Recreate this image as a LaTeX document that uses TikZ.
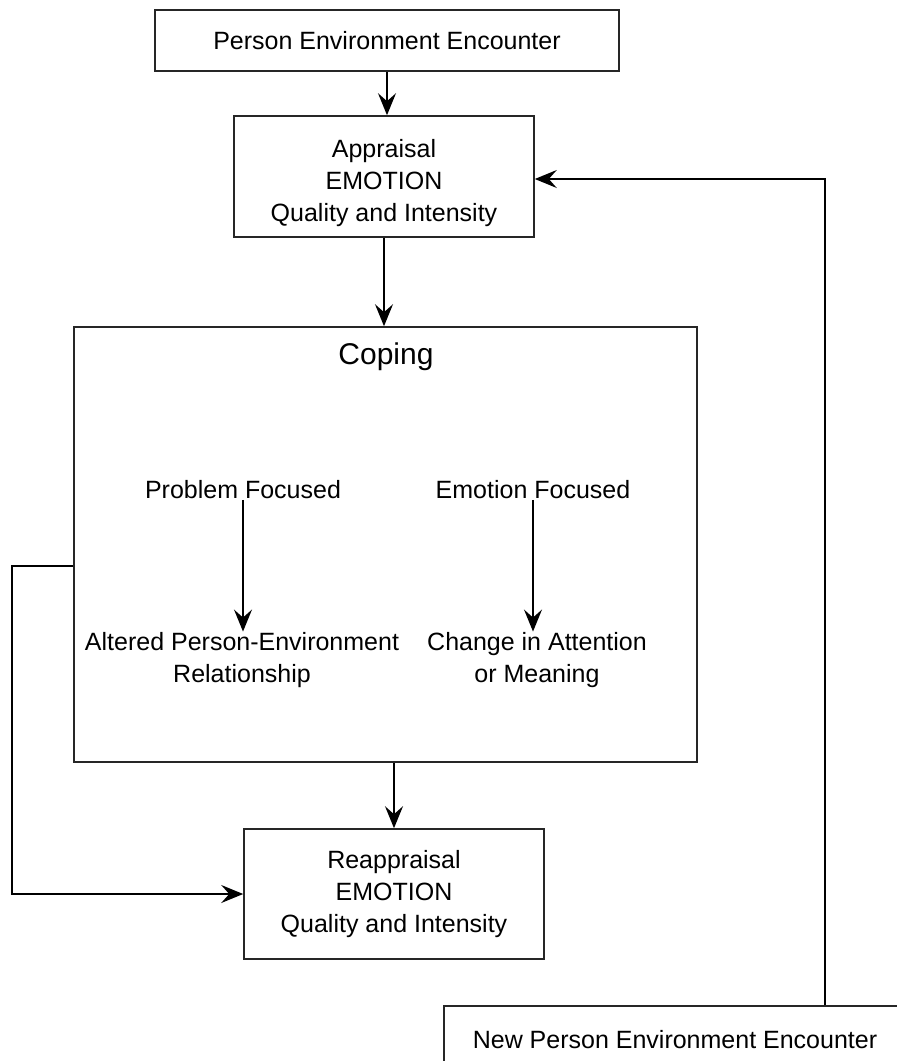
\documentclass[tikz,border=0pt]{standalone}
\usepackage{fontspec}
\setmainfont{Liberation Sans}
\usetikzlibrary{positioning}
\usetikzlibrary{arrows.meta}
\tikzset{>={Stealth[width=18pt,length=22pt,inset=8pt]}}

\begin{document}
\begin{tikzpicture}[x=1pt, y=-1pt, line width=1.6pt, box/.style={rectangle, draw=black!85, line width=1.6pt, inner sep=0pt, align=center, font=\fontsize{25}{32}\selectfont}, plaintext/.style={draw=none, inner sep=0pt, align=center, font=\fontsize{25}{32}\selectfont}]
    \useasboundingbox (0,0) rectangle (897,1061);

    %Nodes
    \node[box, minimum width=464pt, minimum height=61pt](encounter) at (387,40.5){Person Environment Encounter};
    \node[box, minimum width=300pt, minimum height=121pt](appraisal) at (384,176.5){};
    \node[plaintext](appraisaltext) at (384,183){Appraisal\\EMOTION\\Quality and Intensity};
    \node[box, minimum width=623pt, minimum height=435pt](coping) at (385.5,544.5){};
    \node[plaintext, font=\fontsize{30}{36}\selectfont](copinglabel) at (386,357){Coping};
    \node[plaintext](problem) at (243,490){Problem Focused};
    \node[plaintext](altered) at (242,660){Altered Person-Environment\\Relationship};
    \node[plaintext](emotion) at (533,490){Emotion Focused};
    \node[plaintext](attention) at (537,660){Change in Attention\\or Meaning};
    \node[box, minimum width=300pt, minimum height=130pt](reappraisal) at (394,894){Reappraisal\\EMOTION\\Quality and Intensity};
    \node[box, minimum width=462pt, minimum height=68pt](newencounter) at (675,1040){New Person Environment Encounter};
    \coordinate (leftturn) at (12,566);
    \coordinate (rightturn) at (825,179);

    %Lines
    \draw[->] (encounter.south) -- (encounter.south |- appraisal.north);
    \draw[->] (appraisal.south) -- (appraisal.south |- coping.north);
    \draw[->] (reappraisal.north |- coping.south) -- (reappraisal.north);
    \draw[->] (problem.south) -- (problem.south |- altered.north);
    \draw[->] (emotion.south) -- (emotion.south |- attention.north);
    \draw[->] (leftturn -| coping.west) -- (leftturn) |- (reappraisal.west);
    \draw[->] (rightturn |- newencounter.north) -- (rightturn) -- (rightturn -| appraisal.east);

\end{tikzpicture}
\end{document}
